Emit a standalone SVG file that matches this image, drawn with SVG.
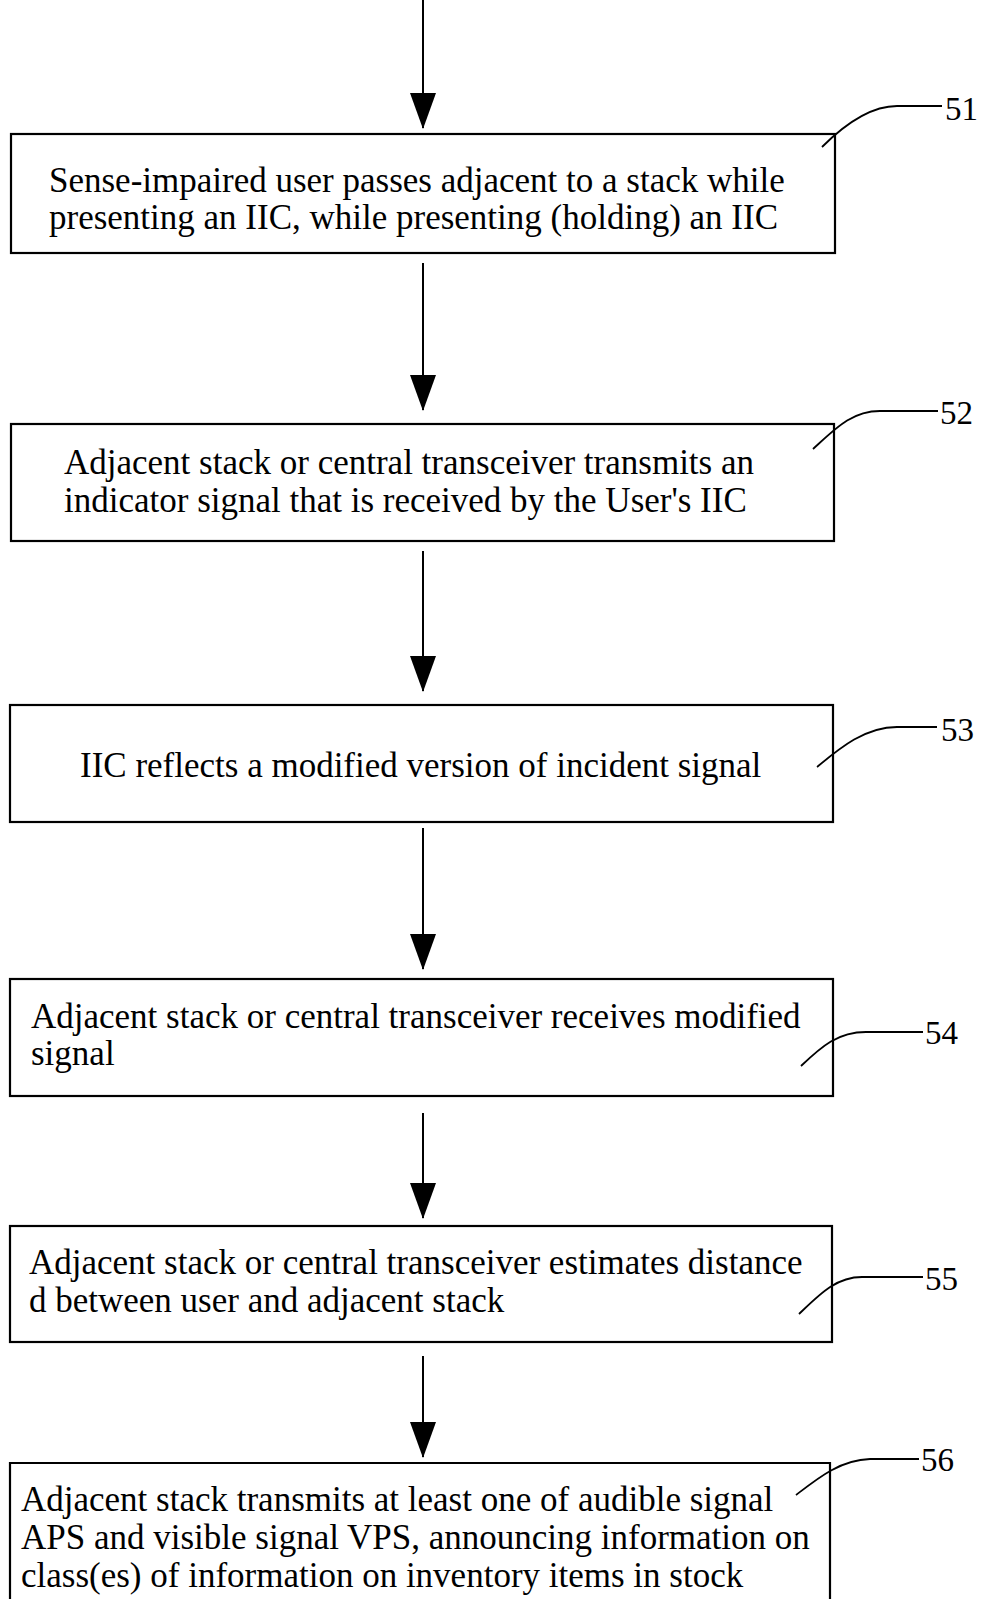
<svg xmlns="http://www.w3.org/2000/svg" width="983" height="1599" viewBox="0 0 983 1599">
<style>
.box{fill:#fff;stroke:#000;stroke-width:2.2}
.t{font-family:"Liberation Serif","Times New Roman",serif;font-size:35px;fill:#000}
.lbl{font-family:"Liberation Serif","Times New Roman",serif;font-size:33px;fill:#000}
.ld{fill:none;stroke:#000;stroke-width:1.8}
.cn{stroke:#000;stroke-width:2;fill:none}
</style>
<defs>
<marker id="ah" markerWidth="26" markerHeight="36" refX="13" refY="35" orient="0" markerUnits="userSpaceOnUse">
<path d="M0,0 L26,0 L13,36 Z" fill="#000"/>
</marker>
</defs>
<rect width="983" height="1599" fill="#fff"/>
<g id="connectors">
<line class="cn" x1="423" y1="0" x2="423" y2="128" marker-end="url(#ah)"/>
<line class="cn" x1="423" y1="263" x2="423" y2="410" marker-end="url(#ah)"/>
<line class="cn" x1="423" y1="551" x2="423" y2="691" marker-end="url(#ah)"/>
<line class="cn" x1="423" y1="828" x2="423" y2="969" marker-end="url(#ah)"/>
<line class="cn" x1="423" y1="1113" x2="423" y2="1218" marker-end="url(#ah)"/>
<line class="cn" x1="423" y1="1356" x2="423" y2="1457" marker-end="url(#ah)"/>
</g>
<g id="n51">
<rect class="box" x="11" y="134" width="824" height="119"/>
<text class="t" x="49" y="192">Sense-impaired user passes adjacent to a stack while</text>
<text class="t" x="49" y="229">presenting an IIC, while presenting (holding) an IIC</text>
<path class="ld" d="M822,147 C845,124 870,106 897,106 L942,106"/>
<text class="lbl" x="945" y="120">51</text>
</g>
<g id="n52">
<rect class="box" x="11" y="424" width="823" height="117"/>
<text class="t" x="64" y="474">Adjacent stack or central transceiver transmits an</text>
<text class="t" x="64" y="512">indicator signal that is received by the User's IIC</text>
<path class="ld" d="M813,449 C836,428 852,411 880,411 L938,411"/>
<text class="lbl" x="940" y="424">52</text>
</g>
<g id="n53">
<rect class="box" x="10" y="705" width="823" height="117"/>
<text class="t" x="80" y="777">IIC reflects a modified version of incident signal</text>
<path class="ld" d="M817,767 C840,748 865,727 897,727 L937,727"/>
<text class="lbl" x="941" y="741">53</text>
</g>
<g id="n54">
<rect class="box" x="10" y="979" width="823" height="117"/>
<text class="t" x="31" y="1028">Adjacent stack or central transceiver receives modified</text>
<text class="t" x="31" y="1065">signal</text>
<path class="ld" d="M801,1066 C822,1046 838,1032 866,1032 L923,1032"/>
<text class="lbl" x="925" y="1044">54</text>
</g>
<g id="n55">
<rect class="box" x="10" y="1226" width="822" height="116"/>
<text class="t" x="29" y="1274">Adjacent stack or central transceiver estimates distance</text>
<text class="t" x="29" y="1312">d between user and adjacent stack</text>
<path class="ld" d="M799,1314 C820,1294 836,1277 862,1277 L923,1277"/>
<text class="lbl" x="925" y="1290">55</text>
</g>
<g id="n56">
<path class="box" d="M10,1600 L10,1463 L830,1463 L830,1600"/>
<text class="t" x="21" y="1511">Adjacent stack transmits at least one of audible signal</text>
<text class="t" x="21" y="1549">APS and visible signal VPS, announcing information on</text>
<text class="t" x="21" y="1587">class(es) of information on inventory items in stock</text>
<path class="ld" d="M796,1495 C818,1478 840,1460 870,1459 L919,1459"/>
<text class="lbl" x="921" y="1471">56</text>
</g>
</svg>
